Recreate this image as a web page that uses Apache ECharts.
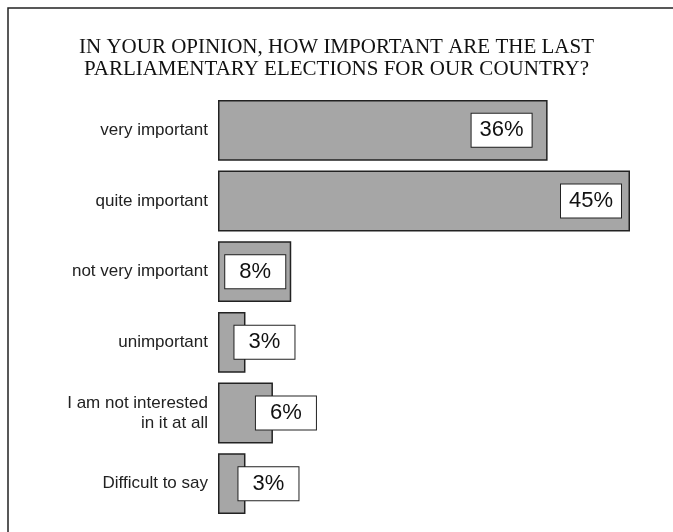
<!DOCTYPE html>
<html>
<head>
<meta charset="utf-8">
<script src="https://cdn.jsdelivr.net/npm/echarts@6/dist/echarts.min.js"></script>
<style>
html,body{margin:0;padding:0;background:#fff;}
#chart{width:673px;height:532px;}
</style>
</head>
<body>
<div id="chart"></div>
<script>
var titleText = 'IN YOUR OPINION, HOW IMPORTANT ARE THE LAST\nPARLIAMENTARY ELECTIONS FOR OUR COUNTRY?';
var categories = ['very important', 'quite important', 'not very important', 'unimportant', 'I am not interested\nin it at all', 'Difficult to say'];
var values = [36, 45, 8, 3, 6, 3];
var labelShift = [-46, -39, -36, 19, 13, 23];

var chart = echarts.init(document.getElementById('chart'), null, {renderer: 'canvas'});
var option = {
  backgroundColor: '#fff',
  animation: false,
  graphic: [{
    type: 'rect', left: 5.5, top: 5.5, shape: {width: 700, height: 600},
    style: {fill: 'none', stroke: '#222', lineWidth: 1.5}, z: 100
  }],
  title: {
    text: titleText, left: 'center', top: 31, padding: [5, 0, 5, 9],
    textStyle: {fontFamily: 'Liberation Serif', fontWeight: 'normal', fontSize: 21, color: '#111', lineHeight: 22}
  },
  grid: {left: 218, top: 95, height: 424, width: 412},
  xAxis: {type: 'value', min: 0, max: 45, show: false},
  yAxis: {
    type: 'category', data: categories, inverse: true,
    axisLine: {show: false}, axisTick: {show: false},
    axisLabel: {fontFamily: 'Liberation Sans', fontSize: 17, color: '#222', margin: 10, align: 'right', lineHeight: 20}
  },
  series: [{
    type: 'bar',
    barCategoryGap: '14%',
    data: values.map(function (v, i) {
      return {value: v, label: {offset: [labelShift[i], 0]}};
    }),
    itemStyle: {color: '#a6a6a6', borderColor: '#222', borderWidth: 1.5},
    label: {
      show: true, position: ['100%', '50%'], align: 'center', verticalAlign: 'middle',
      formatter: '{c}%', fontFamily: 'Liberation Sans', fontSize: 22, color: '#111',
      backgroundColor: '#fff', borderColor: '#222', borderWidth: 1,
      width: 60, height: 33, lineHeight: 33, padding: 0
    }
  }]
};
chart.setOption(option);
</script>
</body>
</html>
